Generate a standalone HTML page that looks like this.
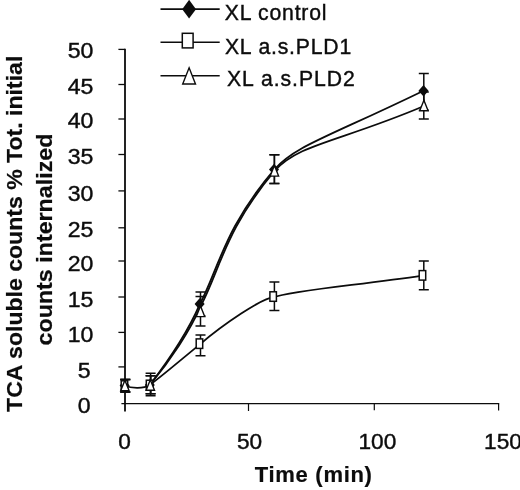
<!DOCTYPE html>
<html><head><meta charset="utf-8"><title>Chart</title>
<style>html,body{margin:0;padding:0;background:#fff;}svg{display:block}</style></head>
<body>
<svg width="520" height="490" viewBox="0 0 520 490">
<rect width="520" height="490" fill="#fff"/>
<g font-family="'Liberation Sans', sans-serif" fill="#0c0c0c">
<g stroke="#0c0c0c" fill="none">
<path d="M125.0 48.75 V411.4" stroke-width="1.8"/>
<path d="M121.4 403.5 H499.2" stroke-width="1.25"/>
<path d="M118.4 366.90 H125.0" stroke-width="1.3"/>
<path d="M118.4 332.40 H125.0" stroke-width="1.3"/>
<path d="M118.4 297.00 H125.0" stroke-width="1.3"/>
<path d="M118.4 261.00 H125.0" stroke-width="1.3"/>
<path d="M118.4 227.80 H125.0" stroke-width="1.3"/>
<path d="M118.4 190.90 H125.0" stroke-width="1.3"/>
<path d="M118.4 154.50 H125.0" stroke-width="1.3"/>
<path d="M118.4 119.00 H125.0" stroke-width="1.3"/>
<path d="M118.4 84.50 H125.0" stroke-width="1.3"/>
<path d="M118.4 49.40 H125.0" stroke-width="1.3"/>
<path d="M248.5 403.5 V411" stroke-width="1.2"/>
<path d="M374.3 403.5 V410.2" stroke-width="1.2"/>
<path d="M498.6 403.5 V410.4" stroke-width="1.2"/>
</g>
<text id="y0" transform="translate(90.70 413.40) scale(1.09 1)" font-size="21.2" text-anchor="end" stroke="#0c0c0c" stroke-width="0.4">0</text>
<text id="y5" transform="translate(90.70 377.50) scale(1.09 1)" font-size="21.2" text-anchor="end" stroke="#0c0c0c" stroke-width="0.4">5</text>
<text id="y10" transform="translate(93.40 341.80) scale(1.09 1)" font-size="21.2" text-anchor="end" stroke="#0c0c0c" stroke-width="0.4">10</text>
<text id="y15" transform="translate(93.40 307.30) scale(1.09 1)" font-size="21.2" text-anchor="end" stroke="#0c0c0c" stroke-width="0.4">15</text>
<text id="y20" transform="translate(93.40 270.90) scale(1.09 1)" font-size="21.2" text-anchor="end" stroke="#0c0c0c" stroke-width="0.4">20</text>
<text id="y25" transform="translate(93.40 237.20) scale(1.09 1)" font-size="21.2" text-anchor="end" stroke="#0c0c0c" stroke-width="0.4">25</text>
<text id="y30" transform="translate(93.40 201.10) scale(1.09 1)" font-size="21.2" text-anchor="end" stroke="#0c0c0c" stroke-width="0.4">30</text>
<text id="y35" transform="translate(93.40 163.50) scale(1.09 1)" font-size="21.2" text-anchor="end" stroke="#0c0c0c" stroke-width="0.4">35</text>
<text id="y40" transform="translate(93.40 128.00) scale(1.09 1)" font-size="21.2" text-anchor="end" stroke="#0c0c0c" stroke-width="0.4">40</text>
<text id="y45" transform="translate(93.40 93.50) scale(1.09 1)" font-size="21.2" text-anchor="end" stroke="#0c0c0c" stroke-width="0.4">45</text>
<text id="y50" transform="translate(93.40 58.40) scale(1.09 1)" font-size="21.2" text-anchor="end" stroke="#0c0c0c" stroke-width="0.4">50</text>
<text id="x0" transform="translate(124.50 448.60) scale(1.07 1)" font-size="21.2" text-anchor="middle" stroke="#0c0c0c" stroke-width="0.4">0</text>
<text id="x50" transform="translate(249.50 448.60) scale(1.07 1)" font-size="21.2" text-anchor="middle" stroke="#0c0c0c" stroke-width="0.4">50</text>
<text id="x100" transform="translate(377.40 448.60) scale(1.07 1)" font-size="21.2" text-anchor="middle" stroke="#0c0c0c" stroke-width="0.4">100</text>
<text id="x150" transform="translate(503.00 448.60) scale(1.07 1)" font-size="21.2" text-anchor="middle" stroke="#0c0c0c" stroke-width="0.4">150</text>
<text id="time" transform="translate(254.80 481.50)" font-size="22" text-anchor="start" font-weight="bold" letter-spacing="0.7" stroke="#0c0c0c" stroke-width="0.2">Time (min)</text>
<text id="yl1" transform="translate(21.70 411.90) rotate(-90) scale(1.04 1)" font-size="22.2" text-anchor="start" font-weight="bold" stroke="#0c0c0c" stroke-width="0.2">TCA soluble counts % Tot. initial</text>
<text id="yl2" transform="translate(51.70 345.40) rotate(-90) scale(1.048 1)" font-size="22.2" text-anchor="start" font-weight="bold" stroke="#0c0c0c" stroke-width="0.2">counts internalized</text>
<path d="M124.6 385.5 C131 388.2 143 389.2 149.8 385" stroke="#0c0c0c" stroke-width="1.8" fill="none" stroke-linecap="round"/>
<path d="M149.8 385 C168.9 360.1 189.4 328.5 199.8 304.2 C217.8 270.8 224.1 228 274.3 169.5 C295.8 145.6 324.6 138.6 423.6 90.7" stroke="#0c0c0c" stroke-width="1.8" fill="none" stroke-linecap="round"/>
<path d="M149.8 385 C169.9 360.9 190.6 330 201.0 305.4 C219.1 271.6 225.4 229 274.6 171.0 C298.4 143.8 339.6 141.8 424 106" stroke="#0c0c0c" stroke-width="1.8" fill="none" stroke-linecap="round"/>
<path d="M149.8 385 C167.1 372.0 184.7 356.6 199.6 344.6 C222.9 324.6 262.5 297.6 273.6 297.4 C290 290.6 360 285 422.5 275.6" stroke="#0c0c0c" stroke-width="1.8" fill="none" stroke-linecap="round"/>
<path d="M125.3 379.5 V392.0 M120.3 379.5 H130.3 M120.3 392.0 H130.3" stroke="#0c0c0c" stroke-width="1.5" fill="none"/>
<path d="M150.6 373.3 V395.8 M145.6 373.3 H155.6 M145.6 395.8 H155.6" stroke="#0c0c0c" stroke-width="1.5" fill="none"/>
<path d="M200.5 292.0 V316.0 M195.5 292.0 H205.5 M195.5 316.0 H205.5" stroke="#0c0c0c" stroke-width="1.5" fill="none"/>
<path d="M274.4 154.8 V183.6 M269.4 154.8 H279.4 M269.4 183.6 H279.4" stroke="#0c0c0c" stroke-width="1.5" fill="none"/>
<path d="M423.8 73.5 V110.3 M418.8 73.5 H428.8 M418.8 110.3 H428.8" stroke="#0c0c0c" stroke-width="1.5" fill="none"/>
<path d="M125.3 379.5 V392.0 M120.3 379.5 H130.3 M120.3 392.0 H130.3" stroke="#0c0c0c" stroke-width="1.5" fill="none"/>
<path d="M150.6 375.8 V393.7 M145.6 375.8 H155.6 M145.6 393.7 H155.6" stroke="#0c0c0c" stroke-width="1.5" fill="none"/>
<path d="M200.5 335.0 V355.8 M195.5 335.0 H205.5 M195.5 355.8 H205.5" stroke="#0c0c0c" stroke-width="1.5" fill="none"/>
<path d="M274.4 282.0 V310.5 M269.4 282.0 H279.4 M269.4 310.5 H279.4" stroke="#0c0c0c" stroke-width="1.5" fill="none"/>
<path d="M423.8 261.0 V289.7 M418.8 261.0 H428.8 M418.8 289.7 H428.8" stroke="#0c0c0c" stroke-width="1.5" fill="none"/>
<path d="M125.3 379.5 V392.0 M120.3 379.5 H130.3 M120.3 392.0 H130.3" stroke="#0c0c0c" stroke-width="1.5" fill="none"/>
<path d="M150.6 375.8 V393.7 M145.6 375.8 H155.6 M145.6 393.7 H155.6" stroke="#0c0c0c" stroke-width="1.5" fill="none"/>
<path d="M200.5 296.5 V326.0 M195.5 296.5 H205.5 M195.5 326.0 H205.5" stroke="#0c0c0c" stroke-width="1.5" fill="none"/>
<path d="M274.4 154.8 V183.6 M269.4 154.8 H279.4 M269.4 183.6 H279.4" stroke="#0c0c0c" stroke-width="1.5" fill="none"/>
<path d="M423.8 92.0 V119.0 M418.8 92.0 H428.8 M418.8 119.0 H428.8" stroke="#0c0c0c" stroke-width="1.5" fill="none"/>
<path d="M124.6 379.8 L129.6 385.5 L124.6 391.2 L119.6 385.5Z" fill="#0c0c0c"/>
<path d="M149.8 379.2 L154.8 385.0 L149.8 390.8 L144.8 385.0Z" fill="#0c0c0c"/>
<path d="M199.6 298.2 L204.6 304.0 L199.6 309.8 L194.6 304.0Z" fill="#0c0c0c"/>
<path d="M274.0 163.8 L279.0 169.5 L274.0 175.2 L269.0 169.5Z" fill="#0c0c0c"/>
<path d="M423.5 85.0 L428.5 90.7 L423.5 96.5 L418.5 90.7Z" fill="#0c0c0c"/>
<rect x="121.2" y="380.8" width="6.5" height="9.5" fill="#fff" stroke="#0c0c0c" stroke-width="1.5"/>
<rect x="146.3" y="380.2" width="6.5" height="9.5" fill="#fff" stroke="#0c0c0c" stroke-width="1.5"/>
<rect x="196.2" y="338.9" width="6.5" height="9.5" fill="#fff" stroke="#0c0c0c" stroke-width="1.5"/>
<rect x="269.9" y="291.8" width="6.5" height="9.5" fill="#fff" stroke="#0c0c0c" stroke-width="1.5"/>
<rect x="419.2" y="270.6" width="6.5" height="9.5" fill="#fff" stroke="#0c0c0c" stroke-width="1.5"/>
<path d="M124.9 380.2 L129.1 390.8 L120.7 390.8Z" fill="#fff" stroke="#0c0c0c" stroke-width="1.4" stroke-linejoin="miter"/>
<path d="M150.3 379.8 L154.5 390.2 L146.1 390.2Z" fill="#fff" stroke="#0c0c0c" stroke-width="1.4" stroke-linejoin="miter"/>
<path d="M200.5 306.1 L204.7 316.6 L196.3 316.6Z" fill="#fff" stroke="#0c0c0c" stroke-width="1.4" stroke-linejoin="miter"/>
<path d="M274.4 165.6 L278.6 176.1 L270.2 176.1Z" fill="#fff" stroke="#0c0c0c" stroke-width="1.4" stroke-linejoin="miter"/>
<path d="M423.9 100.3 L428.1 110.8 L419.7 110.8Z" fill="#fff" stroke="#0c0c0c" stroke-width="1.4" stroke-linejoin="miter"/>
<path d="M160.5 9.1 H219.7" stroke="#0c0c0c" stroke-width="1.6"/>
<path d="M160.5 42.2 H219.7" stroke="#0c0c0c" stroke-width="1.6"/>
<path d="M160.5 75.7 H219.7" stroke="#0c0c0c" stroke-width="1.6"/>
<path d="M189.1 -0.2 L196.0 9.2 L189.1 18.6 L182.2 9.2Z" fill="#0c0c0c"/>
<rect x="182.3" y="33.3" width="10.8" height="14.6" fill="#fff" stroke="#0c0c0c" stroke-width="1.5"/>
<path d="M189.1 67.8 L195.5 84.0 L182.7 84.0Z" fill="#fff" stroke="#0c0c0c" stroke-width="1.4" stroke-linejoin="miter"/>
<text id="l1" transform="translate(224.70 20.00)" font-size="21.2" text-anchor="start" letter-spacing="0.8" stroke="#0c0c0c" stroke-width="0.4">XL control</text>
<text id="l2" transform="translate(224.90 54.20)" font-size="21.2" text-anchor="start" letter-spacing="0.82" stroke="#0c0c0c" stroke-width="0.4">XL a.s.PLD1</text>
<text id="l3" transform="translate(227.00 85.90)" font-size="21.2" text-anchor="start" letter-spacing="0.97" stroke="#0c0c0c" stroke-width="0.4">XL a.s.PLD2</text>
</g></svg>
</body></html>
